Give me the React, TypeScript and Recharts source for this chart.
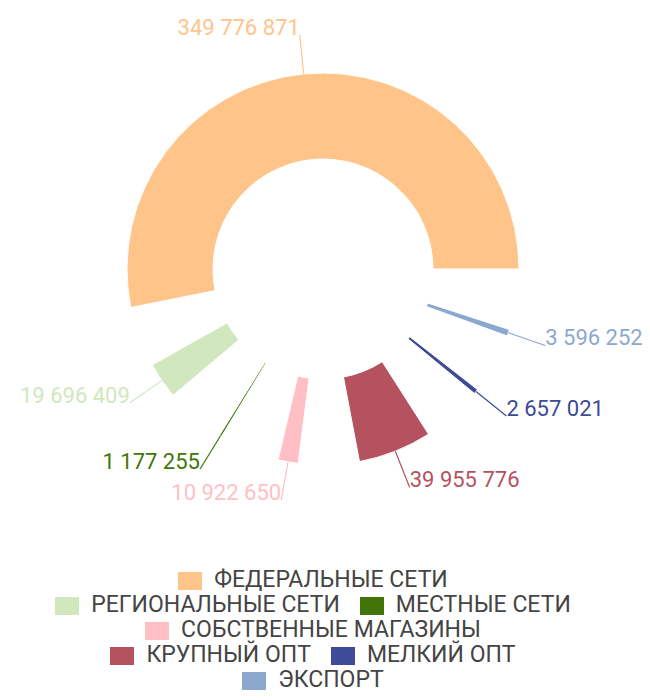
import { PieChart, Pie, Cell, Legend } from "recharts";

// sales channels and their volumes
const channels = [
  "ФЕДЕРАЛЬНЫЕ СЕТИ",
  "РЕГИОНАЛЬНЫЕ СЕТИ",
  "МЕСТНЫЕ СЕТИ",
  "СОБСТВЕННЫЕ МАГАЗИНЫ",
  "КРУПНЫЙ ОПТ",
  "МЕЛКИЙ ОПТ",
  "ЭКСПОРТ",
];
const volumes = [349776871, 19696409, 1177255, 10922650, 39955776, 2657021, 3596252];
const colors = ["#FFC48A", "#D1E7BD", "#427508", "#FFBFC5", "#B5525F", "#3E4B97", "#8CA8CE"];

const data = channels.map((name, i) => ({ name, value: volumes[i] }));

const RADIAN = Math.PI / 180;
const LABEL_OFFSET = 39;
const FONT = "Roboto, 'Noto Sans', sans-serif";

const fmt = (v: number) => String(v).replace(/\B(?=(\d{3})+(?!\d))/g, " ");

const polar = (cx: number, cy: number, r: number, angle: number) => ({
  x: cx + r * Math.cos(-angle * RADIAN),
  y: cy + r * Math.sin(-angle * RADIAN),
});

function renderLabel(props: any) {
  const { cx, cy, midAngle, outerRadius, fill, value } = props;
  const p = polar(cx, cy, outerRadius + LABEL_OFFSET, midAngle);
  return (
    <text
      x={p.x}
      y={p.y}
      fill={fill}
      textAnchor={p.x > cx ? "start" : "end"}
      fontSize={22}
      fontFamily={FONT}
    >
      {fmt(value)}
    </text>
  );
}

function renderLabelLine(props: any) {
  const { cx, cy, midAngle, outerRadius, stroke } = props;
  const a = polar(cx, cy, outerRadius, midAngle);
  const b = polar(cx, cy, outerRadius + LABEL_OFFSET, midAngle);
  return <path d={`M${a.x},${a.y}L${b.x},${b.y}`} stroke={stroke} strokeWidth={1.2} fill="none" />;
}

export default function App() {
  // cancel the body margin and clip to the window so nothing scrolls
  return (
    <div style={{ margin: -8, width: 650, height: 700, overflow: "hidden" }}>
      <PieChart width={650} height={700} margin={{ top: 0, right: 0, bottom: 0, left: 0 }}>
        <Pie
          data={data}
          dataKey="value"
          nameKey="name"
          cx={323}
          cy={269}
          innerRadius={110}
          outerRadius={196}
          startAngle={0}
          endAngle={360}
          paddingAngle={18}
          label={renderLabel}
          labelLine={renderLabelLine}
          isAnimationActive={false}
        >
          {data.map((d, i) => (
            <Cell key={d.name} fill={colors[i]} />
          ))}
        </Pie>
        <Legend
          verticalAlign="bottom"
          align="center"
          iconType="rect"
          iconSize={24}
          width={560}
          itemSorter={(item: any) => channels.indexOf(item.value)}
          wrapperStyle={{ top: 568, left: 43, fontFamily: FONT, fontSize: 23, lineHeight: "23px" }}
          formatter={(value) => (
            <span style={{ color: "#444", marginLeft: 8, marginRight: 10 }}>{value}</span>
          )}
        />
      </PieChart>
    </div>
  );
}
